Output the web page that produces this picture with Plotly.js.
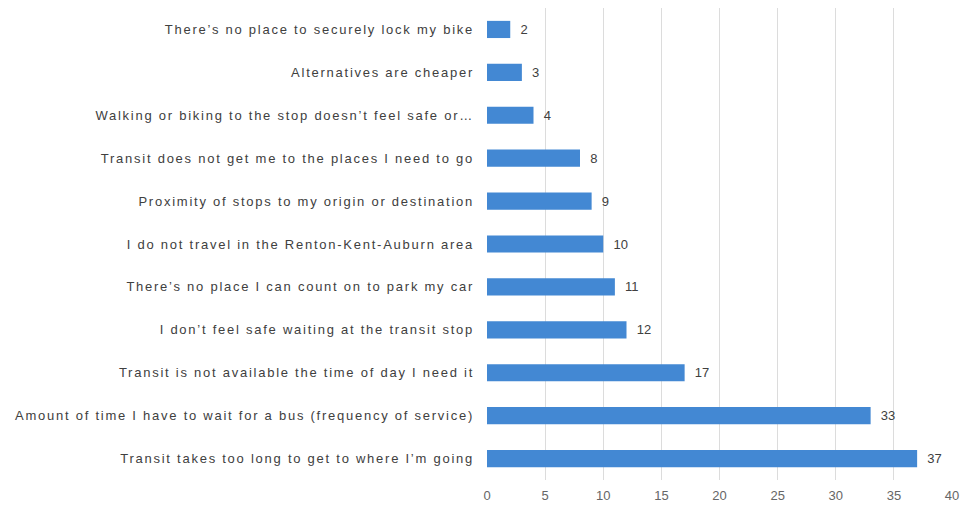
<!DOCTYPE html>
<html>
<head>
<meta charset="utf-8">
<script src="https://cdn.plot.ly/plotly-3.0.1.min.js"></script>
<style>
html,body{margin:0;padding:0;background:#fff;}
#chart{width:961px;height:514px;}
#chart .ytick text{letter-spacing:1.75px;}
</style>
</head>
<body>
<div id="chart"></div>
<script>
const categories = [
  "There’s no place to securely lock my bike",
  "Alternatives are cheaper",
  "Walking or biking to the stop doesn’t feel safe or…",
  "Transit does not get me to the places I need to go",
  "Proximity of stops to my origin or destination",
  "I do not travel in the Renton-Kent-Auburn area",
  "There’s no place I can count on to park my car",
  "I don’t feel safe waiting at the transit stop",
  "Transit is not available the time of day I need it",
  "Amount of time I have to wait for a bus (frequency of service)",
  "Transit takes too long to get to where I’m going"
];
const values = [2, 3, 4, 8, 9, 10, 11, 12, 17, 33, 37];
const tickVals = [0, 5, 10, 15, 20, 25, 30, 35, 40];

const trace = {
  type: 'bar',
  orientation: 'h',
  y: categories,
  x: values,
  text: values.map(v => '\u00a0\u00a0' + v),
  textposition: 'outside',
  cliponaxis: false,
  textfont: {family: 'Liberation Sans, Arial, sans-serif', size: 13, color: '#404040'},
  marker: {color: '#4388d3', line: {width: 0}},
  width: 0.4,
  hoverinfo: 'x+y'
};

const layout = {
  width: 961, height: 514,
  margin: {l: 487, r: 9, t: 8, b: 34},
  paper_bgcolor: '#ffffff', plot_bgcolor: '#ffffff',
  showlegend: false,
  font: {family: 'Liberation Sans, Arial, sans-serif', color: '#595959', size: 13},
  xaxis: {
    range: [0, 40], tickvals: tickVals, ticktext: tickVals.map(String),
    showgrid: true, gridcolor: '#dcdcdc', gridwidth: 1,
    zeroline: false, showline: false, ticks: '',
    ticklabelstandoff: 6,
    tickfont: {size: 13, color: '#666666'}, fixedrange: true
  },
  yaxis: {
    autorange: 'reversed', type: 'category',
    showgrid: false, zeroline: false, showline: false, ticks: '',
    ticklabelstandoff: 12,
    tickfont: {size: 13, color: '#404040'}, fixedrange: true
  },
  bargap: 0.6
};

Plotly.newPlot('chart', [trace], layout, {displayModeBar: false, staticPlot: true});
</script>
</body>
</html>
